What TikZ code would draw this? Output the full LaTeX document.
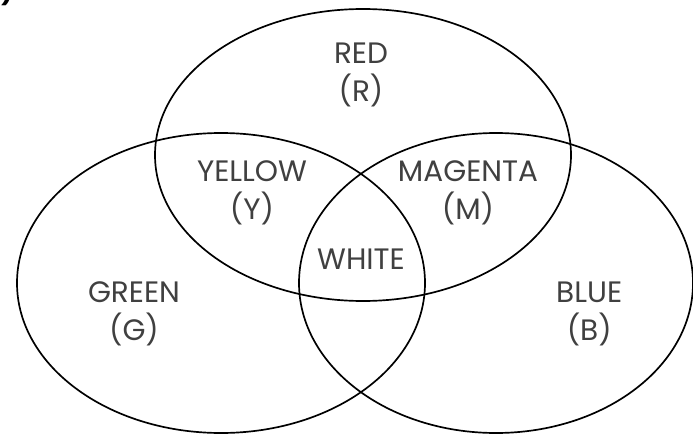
\documentclass[tikz,border=0pt]{standalone}
\usepackage{fontspec}
\setmainfont{Poppins}
\usetikzlibrary{positioning}

\tikzset{
  colour/.style={text=black!75, align=center, font=\fontsize{21}{27}\selectfont},
}

\begin{document}
\begin{tikzpicture}[line width=1.2pt]
  \useasboundingbox (0,0) rectangle (17.325,10.875);
  % resto del rotulo cortado arriba a la izquierda
  \node[anchor=base east, font=\bfseries\fontsize{18}{18}\selectfont] (tag) at (0.47,10.86) {a)};
  % los tres circulos de luz
  \draw (9.075,7.0) ellipse [x radius=5.2, y radius=3.65];
  \draw (5.525,3.8) ellipse [x radius=5.1, y radius=3.75];
  \draw (12.4,3.8) ellipse [x radius=4.925, y radius=3.75];
  % colores primarios y mezclas
  \node[colour] (red) at (9.025,9.0) {RED\\(R)};
  \node[colour] (yellow) at (6.3,6.05) {YELLOW\\(Y)};
  \node[colour] (magenta) at (11.7,6.05) {MAGENTA\\(M)};
  \node[colour] (white) at (9.025,4.4) {WHITE};
  \node[colour] (green) at (3.35,3.03) {GREEN\\(G)};
  \node[colour] (blue) at (14.73,3.03) {BLUE\\(B)};
\end{tikzpicture}
\end{document}
